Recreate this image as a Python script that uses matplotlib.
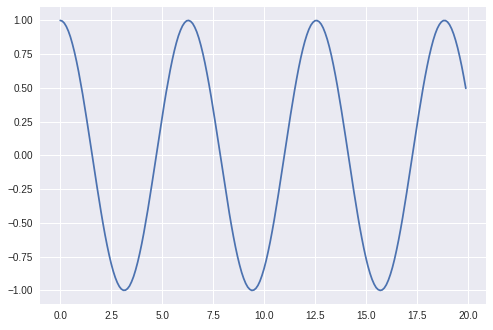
import matplotlib
matplotlib.use('Agg')
import matplotlib.pyplot as plt

# values (one sample every 0.1 along x)
x_vals = [0.0, 0.1, 0.2, 0.3, 0.4, 0.5, 0.6, 0.7, 0.8, 0.9,
          1.0, 1.1, 1.2, 1.3, 1.4, 1.5, 1.6, 1.7, 1.8, 1.9,
          2.0, 2.1, 2.2, 2.3, 2.4, 2.5, 2.6, 2.7, 2.8, 2.9,
          3.0, 3.1, 3.2, 3.3, 3.4, 3.5, 3.6, 3.7, 3.8, 3.9,
          4.0, 4.1, 4.2, 4.3, 4.4, 4.5, 4.6, 4.7, 4.8, 4.9,
          5.0, 5.1, 5.2, 5.3, 5.4, 5.5, 5.6, 5.7, 5.8, 5.9,
          6.0, 6.1, 6.2, 6.3, 6.4, 6.5, 6.6, 6.7, 6.8, 6.9,
          7.0, 7.1, 7.2, 7.3, 7.4, 7.5, 7.6, 7.7, 7.8, 7.9,
          8.0, 8.1, 8.2, 8.3, 8.4, 8.5, 8.6, 8.7, 8.8, 8.9,
          9.0, 9.1, 9.2, 9.3, 9.4, 9.5, 9.6, 9.7, 9.8, 9.9,
          10.0, 10.1, 10.2, 10.3, 10.4, 10.5, 10.6, 10.7, 10.8, 10.9,
          11.0, 11.1, 11.2, 11.3, 11.4, 11.5, 11.6, 11.7, 11.8, 11.9,
          12.0, 12.1, 12.2, 12.3, 12.4, 12.5, 12.6, 12.7, 12.8, 12.9,
          13.0, 13.1, 13.2, 13.3, 13.4, 13.5, 13.6, 13.7, 13.8, 13.9,
          14.0, 14.1, 14.2, 14.3, 14.4, 14.5, 14.6, 14.7, 14.8, 14.9,
          15.0, 15.1, 15.2, 15.3, 15.4, 15.5, 15.6, 15.7, 15.8, 15.9,
          16.0, 16.1, 16.2, 16.3, 16.4, 16.5, 16.6, 16.7, 16.8, 16.9,
          17.0, 17.1, 17.2, 17.3, 17.4, 17.5, 17.6, 17.7, 17.8, 17.9,
          18.0, 18.1, 18.2, 18.3, 18.4, 18.5, 18.6, 18.7, 18.8, 18.9,
          19.0, 19.1, 19.2, 19.3, 19.4, 19.5, 19.6, 19.7, 19.8, 19.9]
y_vals = [1.000, 0.995, 0.980, 0.955, 0.921, 0.878, 0.825, 0.765, 0.697, 0.622,
          0.540, 0.454, 0.362, 0.267, 0.170, 0.071, -0.029, -0.129, -0.227, -0.323,
          -0.416, -0.505, -0.589, -0.666, -0.737, -0.801, -0.857, -0.904, -0.942, -0.971,
          -0.990, -0.999, -0.998, -0.987, -0.967, -0.936, -0.897, -0.848, -0.791, -0.726,
          -0.654, -0.575, -0.490, -0.401, -0.307, -0.211, -0.112, -0.012, 0.087, 0.187,
          0.284, 0.378, 0.469, 0.554, 0.635, 0.709, 0.776, 0.835, 0.886, 0.927,
          0.960, 0.983, 0.997, 1.000, 0.993, 0.977, 0.950, 0.915, 0.870, 0.816,
          0.754, 0.685, 0.608, 0.526, 0.439, 0.347, 0.251, 0.153, 0.054, -0.046,
          -0.146, -0.244, -0.339, -0.431, -0.519, -0.602, -0.679, -0.749, -0.811, -0.866,
          -0.911, -0.948, -0.975, -0.992, -1.000, -0.997, -0.985, -0.963, -0.931, -0.889,
          -0.839, -0.781, -0.714, -0.641, -0.561, -0.476, -0.385, -0.291, -0.194, -0.096,
          0.004, 0.104, 0.203, 0.300, 0.394, 0.483, 0.568, 0.648, 0.721, 0.786,
          0.844, 0.893, 0.934, 0.965, 0.986, 0.998, 0.999, 0.991, 0.973, 0.945,
          0.907, 0.861, 0.806, 0.743, 0.672, 0.595, 0.512, 0.423, 0.331, 0.235,
          0.137, 0.037, -0.063, -0.162, -0.260, -0.355, -0.446, -0.534, -0.615, -0.691,
          -0.760, -0.821, -0.874, -0.918, -0.953, -0.979, -0.994, -1.000, -0.996, -0.982,
          -0.958, -0.924, -0.881, -0.830, -0.770, -0.702, -0.628, -0.547, -0.461, -0.370,
          -0.275, -0.178, -0.079, 0.021, 0.121, 0.219, 0.316, 0.409, 0.498, 0.582,
          0.660, 0.732, 0.796, 0.853, 0.901, 0.940, 0.969, 0.989, 0.999, 0.999,
          0.989, 0.969, 0.939, 0.900, 0.852, 0.796, 0.731, 0.660, 0.581, 0.497]

x_ticks = [0.0, 2.5, 5.0, 7.5, 10.0, 12.5, 15.0, 17.5, 20.0]
y_ticks = [-1.0, -0.75, -0.5, -0.25, 0.0, 0.25, 0.5, 0.75, 1.0]

plt.style.use('seaborn-v0_8')
plt.rcParams['font.family'] = ['Liberation Sans', 'DejaVu Sans']

f = plt.figure(figsize=(493 / 72, 330 / 72), dpi=72)
ax = f.add_subplot(1, 1, 1)
ax.plot(x_vals, y_vals, color='#4C72B0', linewidth=1.75)
ax.set_xticks(x_ticks)
ax.set_yticks(y_ticks)
ax.tick_params(labelsize=10)
f.subplots_adjust(left=0.081, right=0.986, top=0.979, bottom=0.079)
f.savefig('out.png', dpi=72)
plt.close(f)
